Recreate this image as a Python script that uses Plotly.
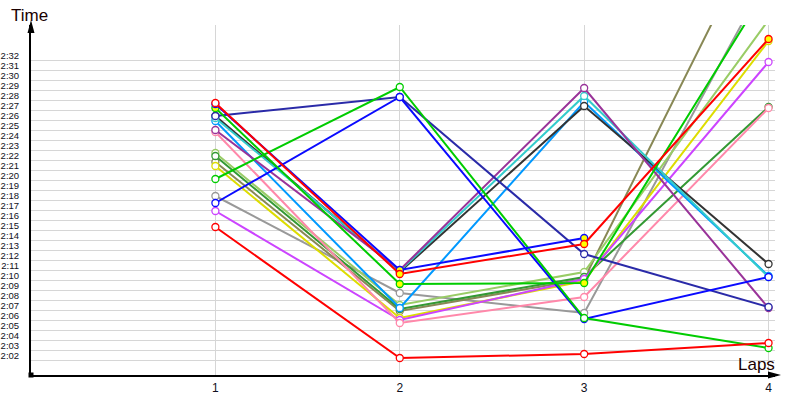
import plotly.graph_objects as go

# ---------------- data ----------------
laps = [1, 2, 3, 4]
lap_labels = ["1", "2", "3", "4"]

# lap times in seconds
red_a = [135.3, 122.2, 122.6, 123.7]
red_b = [147.7, 130.6, 133.6, 154.1]
blue_a = [147.6, 131.0, 134.2, None]
green_a = [147.2, 129.6, 129.7, 159.4]
darkgray = [146.4, 130.8, 147.4, 131.6]
navy = [146.4, 148.3, 132.6, 127.3]
cyan = [146.2, 130.9, 148.4, 130.3]
skyblue = [145.9, 127.2, 147.8, 130.4]
purple = [145.0, 131.0, 149.2, 127.2]
pink = [144.8, 125.7, 128.3, 147.2]
yellowgreen = [142.7, 127.5, 130.8, 156.0]
darkgreen = [142.4, 127.1, 130.3, 147.3]
olive = [141.8, 126.9, 130.1, 167.0]
yellow = [141.4, 126.2, 129.9, 153.9]
lime = [140.1, 149.3, 126.2, 123.2]
gray = [138.4, 128.7, 126.7, 160.5]
blue_b = [137.7, 148.3, 126.1, 130.3]
magenta = [136.9, 126.0, 130.1, 151.8]

tick_seconds = list(range(122, 153))
tick_labels = ["2:%02d" % (s - 120) for s in tick_seconds]

# ---------------- styles ----------------
series = [
    (gray, "#999999", None),
    (olive, "#888855", None),
    (yellowgreen, "#99cc66", None),
    (darkgreen, "#339933", None),
    (yellow, "#dddd00", None),
    (magenta, "#cc44ff", None),
    (pink, "#ff88aa", None),
    (skyblue, "#0099ff", None),
    (darkgray, "#333333", None),
    (cyan, "#33cccc", None),
    (purple, "#993399", None),
    (navy, "#2a2aa8", None),
    (blue_b, "#0a0aff", None),
    (lime, "#00cc00", None),
    (green_a, "#00cc00", [0, 1, 2]),
    (blue_a, "#0a0aff", [1, 2]),
    (red_b, "#ff0000", [1, 2, 3]),
    (red_a, "#ff0000", None),
]

fig = go.Figure()
for vals, col, yfill in series:
    fills = ["#ffff00" if (yfill and i in yfill) else "white" for i in range(len(laps))]
    fig.add_trace(go.Scatter(
        x=laps, y=vals, mode="lines+markers",
        line=dict(color=col, width=2),
        marker=dict(symbol="circle", size=7, color=fills, line=dict(color=col, width=1.3)),
        connectgaps=False, cliponaxis=True,
    ))

W, H = 744.0, 350.0
L, T = 31, 25


def px(x):
    return (x - L) / W


def py(y):
    return (T + H - y) / H


shapes = [
    # y axis arrowhead
    dict(type="path", xref="paper", yref="paper",
         path="M %f,%f L %f,%f L %f,%f Z" % (px(27.5), py(33), px(31), py(20), px(34.5), py(33)),
         fillcolor="black", line=dict(color="black", width=0)),
    # x axis arrowhead
    dict(type="path", xref="paper", yref="paper",
         path="M %f,%f L %f,%f L %f,%f Z" % (px(768), py(371.5), px(781), py(375), px(768), py(378.5)),
         fillcolor="black", line=dict(color="black", width=0)),
    # origin square
    dict(type="rect", xref="paper", yref="paper",
         x0=px(28.5), x1=px(33.5), y0=py(377.5), y1=py(372.5),
         fillcolor="black", line=dict(color="black", width=0)),
]

annotations = [
    dict(text="Time", xref="paper", yref="paper", x=px(9), y=py(15),
         xanchor="left", yanchor="middle", showarrow=False,
         font=dict(family="Liberation Sans", size=17, color="#1a0000")),
    dict(text="Laps", xref="paper", yref="paper", x=px(777), y=py(364),
         xanchor="right", yanchor="middle", showarrow=False,
         font=dict(family="Liberation Sans", size=17, color="#1a0000")),
]

fig.update_layout(
    width=800, height=400,
    margin=dict(l=L, r=800 - L - int(W), t=T, b=400 - T - int(H), pad=0, autoexpand=False),
    plot_bgcolor="white", paper_bgcolor="white",
    showlegend=False, hovermode=False,
    shapes=shapes, annotations=annotations,
    xaxis=dict(range=[0, 4.035], tickvals=laps, ticktext=lap_labels, automargin=False,
               showgrid=True, gridcolor="#d6d6d6", gridwidth=1,
               zeroline=False, showline=True, linecolor="black", linewidth=2,
               ticks="", ticklabelstandoff=1,
               tickfont=dict(family="Liberation Sans", size=12, color="#101020")),
    yaxis=dict(range=[120.5, 155.5], tickvals=tick_seconds, ticktext=tick_labels, automargin=False,
               showgrid=True, gridcolor="#d6d6d6", gridwidth=1,
               zeroline=False, showline=True, linecolor="black", linewidth=2,
               ticks="", ticklabelstandoff=8, ticklabelshift=-4,
               tickfont=dict(family="Liberation Sans", size=9.5, color="#101020")),
)

fig.write_html("out.html")
